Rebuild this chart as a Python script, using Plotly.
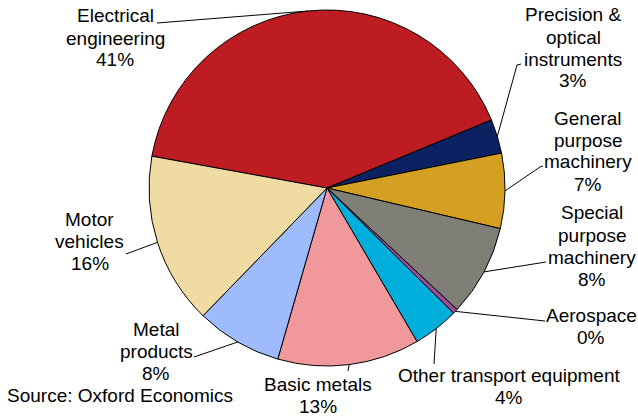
import math
import plotly.graph_objects as go

W, H = 638, 416

# ---- data ----
categories = ["Electrical engineering", "Precision & optical instruments",
              "General purpose machinery", "Special purpose machinery",
              "Aerospace", "Other transport equipment", "Basic metals",
              "Metal products", "Motor vehicles"]
shares = [40.9, 3.1, 6.8, 8.3, 0.45, 4.15, 12.9, 7.8, 15.6]
label_lines = [["Electrical", "engineering"],
               ["Precision &", "optical", "instruments"],
               ["General", "purpose", "machinery"],
               ["Special", "purpose", "machinery"],
               ["Aerospace"],
               ["Other transport equipment"],
               ["Basic metals"],
               ["Metal", "products"],
               ["Motor", "vehicles"]]
colors = ["#BE1C23", "#0B2161", "#D4A021", "#7F7F78", "#9B4F9B",
          "#00AEDB", "#F0989B", "#9DBBFD", "#F0DCA2"]

# ---- layout of pie ----
CX, CY, R = 327.0, 188.0, 178.0
ROT = 280.3  # start angle, clockwise from 12 o'clock

fig = go.Figure(go.Pie(
    labels=categories, values=shares, sort=False, direction="clockwise",
    rotation=ROT, marker=dict(colors=colors, line=dict(color="black", width=1)),
    textinfo="none", hoverinfo="label+percent", showlegend=False,
    domain=dict(x=[(CX - R) / W, (CX + R) / W], y=[1 - (CY + R) / H, 1 - (CY - R) / H]),
))

# label positions (px): center x, first-line center y, leader anchor points
label_pos = [
    (115, 16, [(157, 23)]),
    (573, 15, [(521, 64), (517, 65)]),
    (588, 118, [(543, 166), (540, 167)]),
    (592, 213, [(546, 262)]),
    (591, 315, [(545, 321)]),
    (509, 375, [(434, 364)]),
    (318, 384, [(348, 371)]),
    (156, 329, [(194, 357), (197, 356)]),
    (90, 219, [(126, 254)]),
]
LS = 22
FONT = dict(family="Liberation Sans, Arial, sans-serif", size=19, color="black")

def px(x, y):
    return x / W, 1 - y / H

total = sum(shares)
cum = 0.0
annotations = []
shapes = []
for i, v in enumerate(shares):
    mid = ROT + 360 * (cum + v / 2) / total
    cum += v
    a = math.radians(mid)
    ex, ey = CX + R * math.sin(a), CY - R * math.cos(a)
    cx, y0, anchors = label_pos[i]
    lines = label_lines[i] + [f"{round(v)}%"]
    for k, t in enumerate(lines):
        xx, yy = px(cx, y0 + k * LS)
        annotations.append(dict(x=xx, y=yy, xref="paper", yref="paper", text=t,
                                showarrow=False, xanchor="center", yanchor="middle",
                                font=FONT))
    pts = anchors + [(ex, ey)]
    path = "M " + " L ".join(f"{px(x, y)[0]},{px(x, y)[1]}" for x, y in pts)
    shapes.append(dict(type="path", xref="paper", yref="paper", path=path,
                       line=dict(color="black", width=1)))

annotations.append(dict(x=px(5, 395)[0], y=px(5, 395)[1], xref="paper", yref="paper",
                        text="Source: Oxford Economics", showarrow=False,
                        xanchor="left", yanchor="middle", font=FONT))

fig.update_layout(width=W, height=H, margin=dict(l=0, r=0, t=0, b=0),
                  paper_bgcolor="white", plot_bgcolor="white",
                  annotations=annotations, shapes=shapes)
fig.write_html("out.html", config={"displayModeBar": False},
               post_script="document.body.style.margin='0';")
